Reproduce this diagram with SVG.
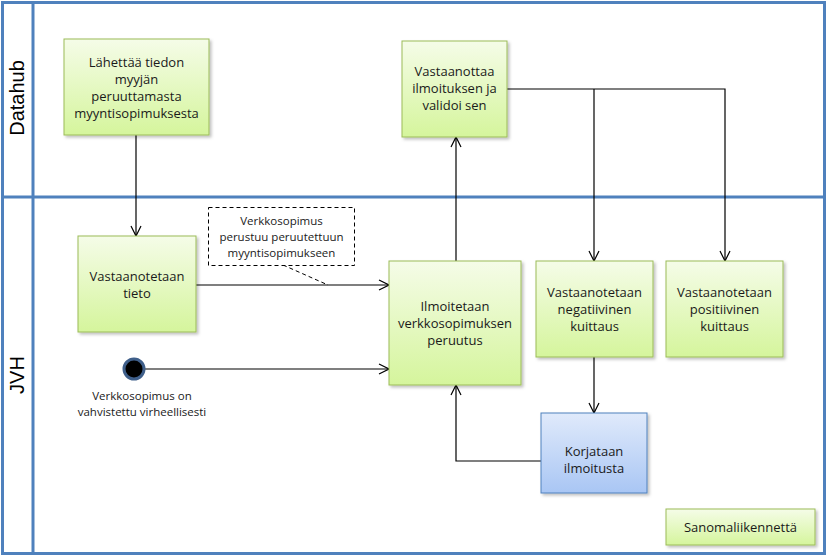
<svg xmlns="http://www.w3.org/2000/svg" width="828" height="557" viewBox="0 0 828 557">
<style>
.g{fill:url(#gg);stroke:#9bbb59;stroke-width:1}
.b{fill:url(#bg);stroke:#4f81bd;stroke-width:1}
.t{font-family:"Open Sans","Liberation Sans",sans-serif;font-size:13px;fill:#1a1a1a;text-anchor:middle}
.lane{font-family:"Liberation Sans",sans-serif;font-size:20px;fill:#000;text-anchor:middle}
.c{fill:none;stroke:#000;stroke-width:1.2}
.frame{fill:none;stroke:#4f81bd;stroke-width:3}
</style>
<defs>
<linearGradient id="gg" x1="0" y1="0" x2="0" y2="1"><stop offset="0" stop-color="#f5fce8"/><stop offset="1" stop-color="#d5f59c"/></linearGradient>
<linearGradient id="bg" x1="0" y1="0" x2="0" y2="1"><stop offset="0" stop-color="#e0eafb"/><stop offset="1" stop-color="#a9c6f4"/></linearGradient>
<filter id="sh" x="-10%" y="-10%" width="130%" height="130%"><feDropShadow dx="2" dy="2" stdDeviation="1.5" flood-color="#000" flood-opacity="0.25"/></filter>
<marker id="a" viewBox="0 0 12 12" refX="11" refY="6" markerWidth="12" markerHeight="12" markerUnits="userSpaceOnUse" orient="auto"><path d="M1,1 L11,6 L1,11" fill="none" stroke="#000" stroke-width="1.2"/></marker>
</defs>
<rect x="0" y="0" width="828" height="557" fill="#fff"/>
<g id="lanes">
<rect class="frame" x="2.5" y="2.5" width="822" height="551"/>
<line class="frame" x1="33" y1="2.5" x2="33" y2="553.5"/>
<line class="frame" x1="2.5" y1="197" x2="824.5" y2="197"/>
<text class="lane" transform="translate(24,98) rotate(-90)">Datahub</text>
<text class="lane" transform="translate(24,375) rotate(-90)">JVH</text>
</g>
<g id="connectors">
<path class="c" d="M136,135 V236" marker-end="url(#a)"/>
<path class="c" d="M196,285 H389" marker-end="url(#a)"/>
<path class="c" d="M144,369 H389" marker-end="url(#a)"/>
<path class="c" d="M456,261 V137" marker-end="url(#a)"/>
<path class="c" d="M507,89 H725 V261" marker-end="url(#a)"/>
<path class="c" d="M594,89 V261" marker-end="url(#a)"/>
<path class="c" d="M594,357 V413" marker-end="url(#a)"/>
<path class="c" d="M541,461 H456 V385" marker-end="url(#a)"/>
<path d="M283,265 L328,285" fill="none" stroke="#000" stroke-width="1" stroke-dasharray="4,3"/>
</g>
<g id="n1"><rect class="g" filter="url(#sh)" x="64" y="39" width="145" height="96"/>
<text class="t" x="136.5" y="67">Lähettää tiedon</text><text class="t" x="136.5" y="84">myyjän</text><text class="t" x="136.5" y="101">peruuttamasta</text><text class="t" x="136.5" y="118">myyntisopimuksesta</text></g>
<g id="n2"><rect class="g" filter="url(#sh)" x="402" y="41" width="105" height="96"/>
<text class="t" x="454.5" y="76">Vastaanottaa</text><text class="t" x="454.5" y="93">ilmoituksen ja</text><text class="t" x="454.5" y="110">validoi sen</text></g>
<g id="n3"><rect class="g" filter="url(#sh)" x="78" y="236" width="118" height="96"/>
<text class="t" x="137" y="281">Vastaanotetaan</text><text class="t" x="137" y="298">tieto</text></g>
<g id="note"><rect x="208.5" y="207.5" width="146" height="58" fill="#fff" stroke="#000" stroke-width="1" stroke-dasharray="4,3"/>
<text class="t" x="281.5" y="225" style="font-size:11.5px">Verkkosopimus</text><text class="t" x="281.5" y="241" style="font-size:11.5px">perustuu peruutettuun</text><text class="t" x="281.5" y="257" style="font-size:11.5px">myyntisopimukseen</text></g>
<g id="n4"><rect class="g" filter="url(#sh)" x="389" y="261" width="132" height="124"/>
<text class="t" x="455" y="311">Ilmoitetaan</text><text class="t" x="455" y="328">verkkosopimuksen</text><text class="t" x="455" y="345">peruutus</text></g>
<g id="n5"><rect class="g" filter="url(#sh)" x="536" y="261" width="117" height="96"/>
<text class="t" x="594.5" y="297">Vastaanotetaan</text><text class="t" x="594.5" y="314">negatiivinen</text><text class="t" x="594.5" y="331">kuittaus</text></g>
<g id="n6"><rect class="g" filter="url(#sh)" x="666" y="261" width="117" height="96"/>
<text class="t" x="724.5" y="297">Vastaanotetaan</text><text class="t" x="724.5" y="314">positiivinen</text><text class="t" x="724.5" y="331">kuittaus</text></g>
<g id="n7"><rect class="b" filter="url(#sh)" x="541" y="413" width="106" height="80"/>
<text class="t" x="594" y="456">Korjataan</text><text class="t" x="594" y="473">ilmoitusta</text></g>
<g id="start"><circle cx="134" cy="369" r="10" fill="#000" stroke="#3f5f8a" stroke-width="3"/>
<text class="t" x="142" y="400" style="font-size:11.5px">Verkkosopimus on</text><text class="t" x="142" y="416" style="font-size:11.5px">vahvistettu virheellisesti</text></g>
<g id="legend"><rect class="g" filter="url(#sh)" x="666" y="509" width="149" height="36"/>
<text class="t" x="740.5" y="532">Sanomaliikennettä</text></g>
</svg>
